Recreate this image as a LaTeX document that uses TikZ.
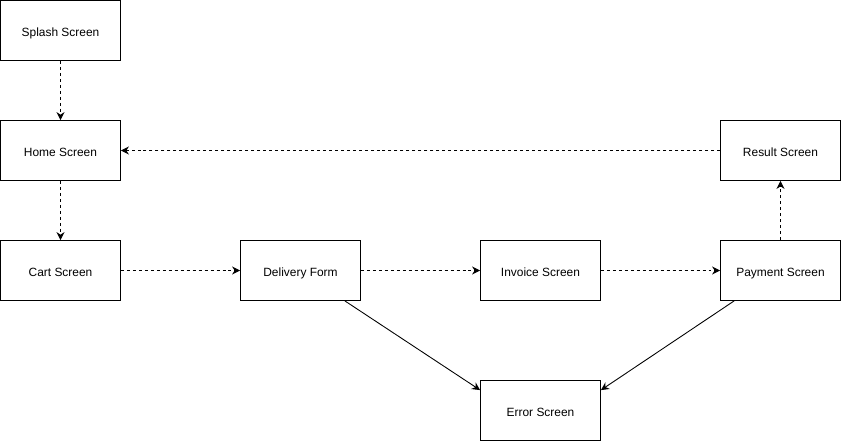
\documentclass[tikz,border=0pt]{standalone}
\usepackage{fontspec}
\setmainfont{Liberation Sans}
\usetikzlibrary{arrows.meta, positioning}

\begin{document}
\begin{tikzpicture}
  [
  node distance = 2.4cm and 4.8cm, on grid, >={Stealth[length=1.6mm, width=1.6mm]},
  every node/.style={font=\fontsize{6.8}{8}\selectfont},
  screen/.style={draw, line width=0.5pt, minimum width=2.4cm, minimum height=1.2cm,
                 inner sep=0pt, text height=1.6ex, text depth=0.4ex},
  flow/.style={->, line width=0.5pt, dash pattern=on 1.7pt off 1.7pt},
  fail/.style={->, line width=0.5pt}
  ]
  \useasboundingbox (0,0) rectangle (16.84,-8.82);

  \node[screen] (splash)  at (1.21,-0.61)           {Splash Screen};
  \node[screen] (home)    [below=of splash]         {Home Screen};
  \node[screen] (cart)    [below=of home]           {Cart Screen};
  \node[screen] (deliv)   [right=of cart]           {Delivery Form};
  \node[screen] (invoice) [right=of deliv]          {Invoice Screen};
  \node[screen] (payment) [right=of invoice]        {Payment Screen};
  \node[screen] (result)  [above=of payment]        {Result Screen};
  \node[screen] (error)   [below=2.8cm of invoice]  {Error Screen};

  \draw[flow] (splash)  -- (home);
  \draw[flow] (home)    -- (cart);
  \draw[flow] (cart)    -- (deliv);
  \draw[flow] (deliv)   -- (invoice);
  \draw[flow] (invoice) -- (payment);
  \draw[flow] (payment) -- (result);
  \draw[flow] (result)  -- (home);

  \draw[fail] ([xshift=-0.32cm]deliv.south east)  -- ([yshift=-0.2cm]error.north west);
  \draw[fail] ([xshift=0.28cm]payment.south west) -- ([yshift=-0.2cm]error.north east);
\end{tikzpicture}
\end{document}
